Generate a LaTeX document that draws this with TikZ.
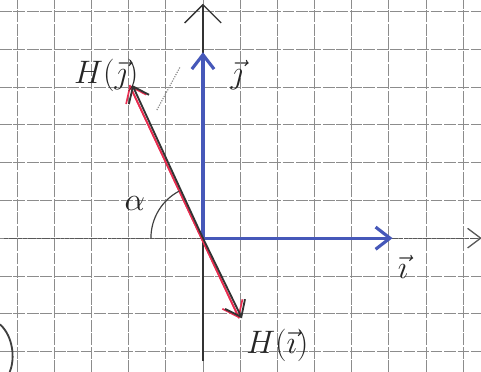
\documentclass[tikz,border=0pt]{standalone}
\usepackage{amsmath,amssymb}
\usepackage{xcolor}
\usepackage{tikz}
\usetikzlibrary{arrows.meta}
\definecolor{penna}{RGB}{70,88,185}
\definecolor{rosso}{RGB}{232,45,80}
\newcommand{\etichetta}[1]{\fontsize{26}{26}\selectfont$#1$}

\begin{document}
\begin{tikzpicture}[x=1cm,y=1.017cm,>={Straight Barb[length=11pt,width=17pt]},
    griglia/.style={black!45,line width=0.55pt,dash pattern=on 9pt off 1.3pt},
    asse/.style={black!80,line width=1pt},
    vettore/.style={->,penna,line width=2.4pt},
    immagine/.style={->,black!80,line width=1.4pt}]
  \fill[white] (-5.46,-3.54) rectangle (7.48,6.30);
  \useasboundingbox (-5.46,-3.54) rectangle (7.48,6.30);
  % quadretti del foglio
  \foreach \x in {-5,...,7} \draw[griglia] (\x,-3.54) -- (\x,6.30);
  \foreach \y in {-3,...,6} \draw[griglia] (-5.46,\y) -- (7.48,\y);
  \coordinate (O) at (0,0);
  \coordinate (Xs) at (-5.35,0);
  \coordinate (Xe) at (7.5,0);
  \coordinate (Ys) at (0,-3.25);
  \coordinate (Ye) at (0,6.2);
  \coordinate (I) at (5.1,0);
  \coordinate (J) at (0,4.92);
  \coordinate (HI) at (1.05,-2.12);
  \coordinate (HJ) at (-1.9,4.05);
  % assi
  \draw[asse,black!65,-{Straight Barb[length=10pt,width=15pt]},dash pattern=on 3pt off 0.6pt] (Xs) -- (Xe);
  \draw[asse,-{Straight Barb[length=14pt,width=28pt]}] (Ys) -- (Ye);
  % vettori della base e immagini
  \draw[vettore] (O) -- (I);
  \draw[vettore] (O) -- (J);
  \draw[->,rosso,line width=1.3pt,transform canvas={xshift=-2.2pt}] (HI) -- (HJ);
  \draw[->,rosso,line width=1.3pt,transform canvas={xshift=-2.2pt}] (HJ) -- (HI);
  \draw[immagine] (O) -- (HJ);
  \draw[immagine] (O) -- (HI);
  \draw[black!45,densely dotted,line width=0.9pt] (-1.24,3.39) -- (-0.62,4.52);
  \draw[black!75,line width=0.9pt] (-1.4,0) arc[start angle=180,end angle=117,radius=1.4];
  \draw[black!75,line width=1.4pt] (-5.46,-2.28) .. controls (-5.1,-2.6) and (-5.05,-3.2) .. (-5.2,-3.54);
  \node[black!85] (li) at (5.38,-0.77) {\etichetta{\vec{\imath}}};
  \node[black!85] (lj) at (0.91,4.31) {\etichetta{\vec{\jmath}}};
  \node[black!85] (lhj) at (-2.6,4.3) {\etichetta{H(\vec{\jmath})}};
  \node[black!85] (lhi) at (2.0,-2.83) {\etichetta{H(\vec{\imath})}};
  \node[black!85] (la) at (-1.83,0.93) {\etichetta{\alpha}};
\end{tikzpicture}
\end{document}
